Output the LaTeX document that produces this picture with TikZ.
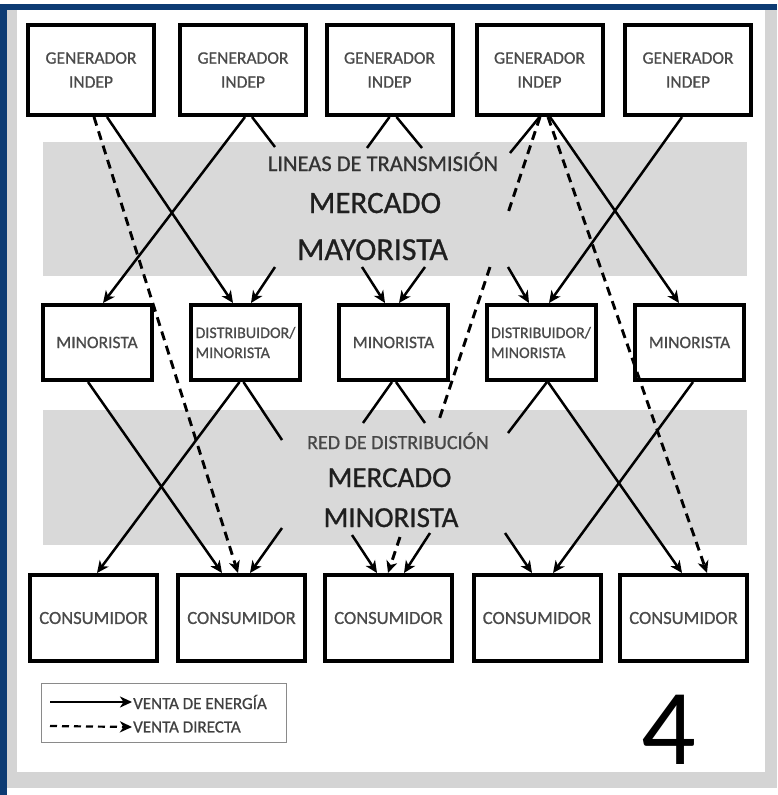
\documentclass[tikz,border=0pt]{standalone}
\usepackage{fontspec}
\setmainfont{Carlito}
\newfontfamily\heavyfont{Carlito}[FakeBold=0.8]
\usetikzlibrary{arrows.meta}
\definecolor{frameblue}{HTML}{0D3B73}
\definecolor{shadowgray}{HTML}{D4D4D4}
\definecolor{bandgray}{HTML}{D9D9D9}
\definecolor{labelgray}{HTML}{4A4A4A}
\definecolor{legendgray}{HTML}{8A8A8A}
\begin{document}
\begin{tikzpicture}[x=1pt,y=-1pt,
  box/.style={draw=black, line width=4pt, fill=white, inner sep=0pt, text=labelgray, align=center},
  genbox/.style={box, minimum width=126pt, minimum height=90pt, font=\heavyfont\fontsize{17.5}{24}\selectfont},
  midbox/.style={box, minimum width=109pt, minimum height=75pt, font=\heavyfont\fontsize{17.5}{21}\selectfont},
  conbox/.style={box, minimum width=127pt, minimum height=86pt, font=\heavyfont\fontsize{18.5}{22}\selectfont},
  tipstyle/.style={-{Stealth[length=12pt,width=11pt,inset=3.5pt]}},
  flow/.style={line width=2.5pt, tipstyle},
  feed/.style={line width=2.5pt},
  direct/.style={line width=2.9pt, dash pattern=on 9pt off 6pt, tipstyle},
  directpart/.style={line width=2.9pt, dash pattern=on 9pt off 6pt},
  bandtitle/.style={anchor=base, inner sep=0pt, text=black!80, font=\heavyfont\fontsize{22.5}{26}\selectfont},
  bandsub/.style={anchor=base, inner sep=0pt, text=black!72, font=\heavyfont\fontsize{20}{24}\selectfont},
  market/.style={anchor=base, inner sep=0pt, text=black!88},
  legendtext/.style={anchor=west, inner sep=1pt, text=black!75, font=\heavyfont\fontsize{17}{20}\selectfont}
]
\useasboundingbox (0,0) rectangle (777,795);

% page frame with its shadow
\fill[white] (0,0) rectangle (777,795);
\fill[shadowgray] (7,10) rectangle (17,788);
\fill[shadowgray] (765,10) rectangle (777,788);
\fill[shadowgray] (7,772) rectangle (777,788);
\fill[frameblue] (0,4) rectangle (777,10);
\fill[frameblue] (0,4) rectangle (7,795);

% market bands
\fill[bandgray] (43,142) rectangle (747,276);
\fill[bandgray] (43,410) rectangle (747,545);

% band labels
\node[bandtitle] (lineas) at (383,171) {LINEAS DE TRANSMISIÓN};
\node[market, font=\heavyfont\fontsize{31}{34}\selectfont] (merc1) at (375,213) {MERCADO};
\node[market, font=\heavyfont\fontsize{32}{34}\selectfont] (mayor) at (372.5,260) {MAYORISTA};
\node[bandsub] (red) at (398,449) {RED DE DISTRIBUCIÓN};
\node[market, font=\heavyfont\fontsize{29}{32}\selectfont] (merc2) at (389.5,487) {MERCADO};
\node[market, font=\heavyfont\fontsize{29}{32}\selectfont] (minor) at (391,527) {MINORISTA};

% generators
\node[genbox] (g1) at (91,70) {GENERADOR\\INDEP};
\node[genbox] (g2) at (243,70) {GENERADOR\\INDEP};
\node[genbox] (g3) at (389.5,70) {GENERADOR\\INDEP};
\node[genbox] (g4) at (539.5,70) {GENERADOR\\INDEP};
\node[genbox] (g5) at (688,70) {GENERADOR\\INDEP};

% retailers and distributors
\node[midbox] (m1) at (97,342.5) {MINORISTA};
\node[midbox, align=left, font=\heavyfont\fontsize{16}{20}\selectfont] (m2) at (245.5,342.5) {DISTRIBUIDOR/\\MINORISTA};
\node[midbox] (m3) at (393.5,342.5) {MINORISTA};
\node[midbox, align=left, font=\heavyfont\fontsize{16}{20}\selectfont] (m4) at (541,342.5) {DISTRIBUIDOR/\\MINORISTA};
\node[midbox] (m5) at (689.5,342.5) {MINORISTA};

% consumers
\node[conbox] (c1) at (93.5,618) {CONSUMIDOR};
\node[conbox] (c2) at (241.5,618) {CONSUMIDOR};
\node[conbox] (c3) at (388.5,618) {CONSUMIDOR};
\node[conbox] (c4) at (537,618) {CONSUMIDOR};
\node[conbox] (c5) at (683.5,618) {CONSUMIDOR};

% where lines enter and leave the wholesale market
\coordinate (w1) at (275,147);
\coordinate (w2) at (367,148);
\coordinate (w3) at (422,148);
\coordinate (w4) at (510,153);
\coordinate (w5) at (275,267);
\coordinate (w6) at (362,267);
\coordinate (w7) at (425,267);
\coordinate (w8) at (508,267);

% where lines enter and leave the retail market
\coordinate (r1) at (282,440);
\coordinate (r2) at (363,423);
\coordinate (r3) at (425,423);
\coordinate (r4) at (508,433);
\coordinate (r5) at (282,528);
\coordinate (r6) at (352,535);
\coordinate (r7) at (430,533);
\coordinate (r8) at (505,533);

% visible pieces of the direct sale from the fourth generator
\coordinate (d1) at (508,213);
\coordinate (d2) at (490,267);
\coordinate (d3) at (438,423);
\coordinate (d4) at (400,537);

% generators to the wholesale market and retailers
\draw[flow] ([xshift=16pt]g1.south) -- ([xshift=-12.5pt]m2.north);
\draw[flow] ([xshift=2pt]g2.south) -- ([xshift=6pt]m1.north);
\draw[feed] ([xshift=9pt]g2.south) -- (w1);
\draw[feed] ([xshift=0pt]g3.south) -- (w2);
\draw[feed] ([xshift=7pt]g3.south) -- (w3);
\draw[feed] ([xshift=0pt]g4.south) -- (w4);
\draw[flow] ([xshift=10.5pt]g4.south) -- ([xshift=-10.5pt]m5.north);
\draw[flow] ([xshift=-6pt]g5.south) -- ([xshift=8pt]m4.north);
\draw[flow] (w5) -- ([xshift=5.5pt]m2.north);
\draw[flow] (w6) -- ([xshift=-8.5pt]m3.north);
\draw[flow] (w7) -- ([xshift=5.5pt]m3.north);
\draw[flow] (w8) -- ([xshift=-12pt]m4.north);

% retailers to the retail market and consumers
\draw[flow] ([xshift=-9pt]m1.south) -- ([xshift=-19.5pt]c2.north);
\draw[flow] ([xshift=-6pt]m2.south) -- ([xshift=3.5pt]c1.north);
\draw[feed] ([xshift=-2pt]m2.south) -- (r1);
\draw[feed] ([xshift=-1.5pt]m3.south) -- (r2);
\draw[feed] ([xshift=2.5pt]m3.south) -- (r3);
\draw[feed] ([xshift=6pt]m4.south) -- (r4);
\draw[flow] ([xshift=7pt]m4.south) -- ([xshift=-1.5pt]c5.north);
\draw[flow] ([xshift=3.5pt]m5.south) -- ([xshift=16pt]c4.north);
\draw[flow] (r5) -- ([xshift=8.5pt]c2.north);
\draw[flow] (r6) -- ([xshift=-11.5pt]c3.north);
\draw[flow] (r7) -- ([xshift=15.5pt]c3.north);
\draw[flow] (r8) -- ([xshift=-5pt]c4.north);

% direct sales
\draw[direct] ([xshift=3pt]g1.south) -- ([xshift=-3.5pt]c2.north);
\draw[direct] ([xshift=8.5pt]g4.south) -- ([xshift=23.5pt]c5.north);
\draw[directpart] ([xshift=0.5pt]g4.south) -- (d1);
\draw[directpart] (d2) -- (d3);
\draw[direct] (d4) -- ([xshift=-0.5pt]c3.north);

% legend
\node[draw=legendgray, line width=1.2pt, minimum width=245pt, minimum height=59pt, inner sep=0pt] (legend) at (164,713) {};
\coordinate (ls1) at (50,702);
\coordinate (ls2) at (50,726);
\node[legendtext] (lt1) at (132,702) {VENTA DE ENERGÍA};
\node[legendtext] (lt2) at (132,727) {VENTA DIRECTA};
\draw[line width=2.2pt, -{Stealth[length=12pt,width=11pt,inset=3.5pt]}] (ls1) -- (lt1.west);
\draw[line width=2.2pt, dash pattern=on 7pt off 5pt, -{Stealth[length=12pt,width=11pt,inset=3.5pt]}] (ls2) -- (lt2.west);

% slide number
\node[anchor=base, inner sep=0pt, font=\fontsize{108}{110}\selectfont] (num) at (668.5,764) {4};
\end{tikzpicture}
\end{document}
